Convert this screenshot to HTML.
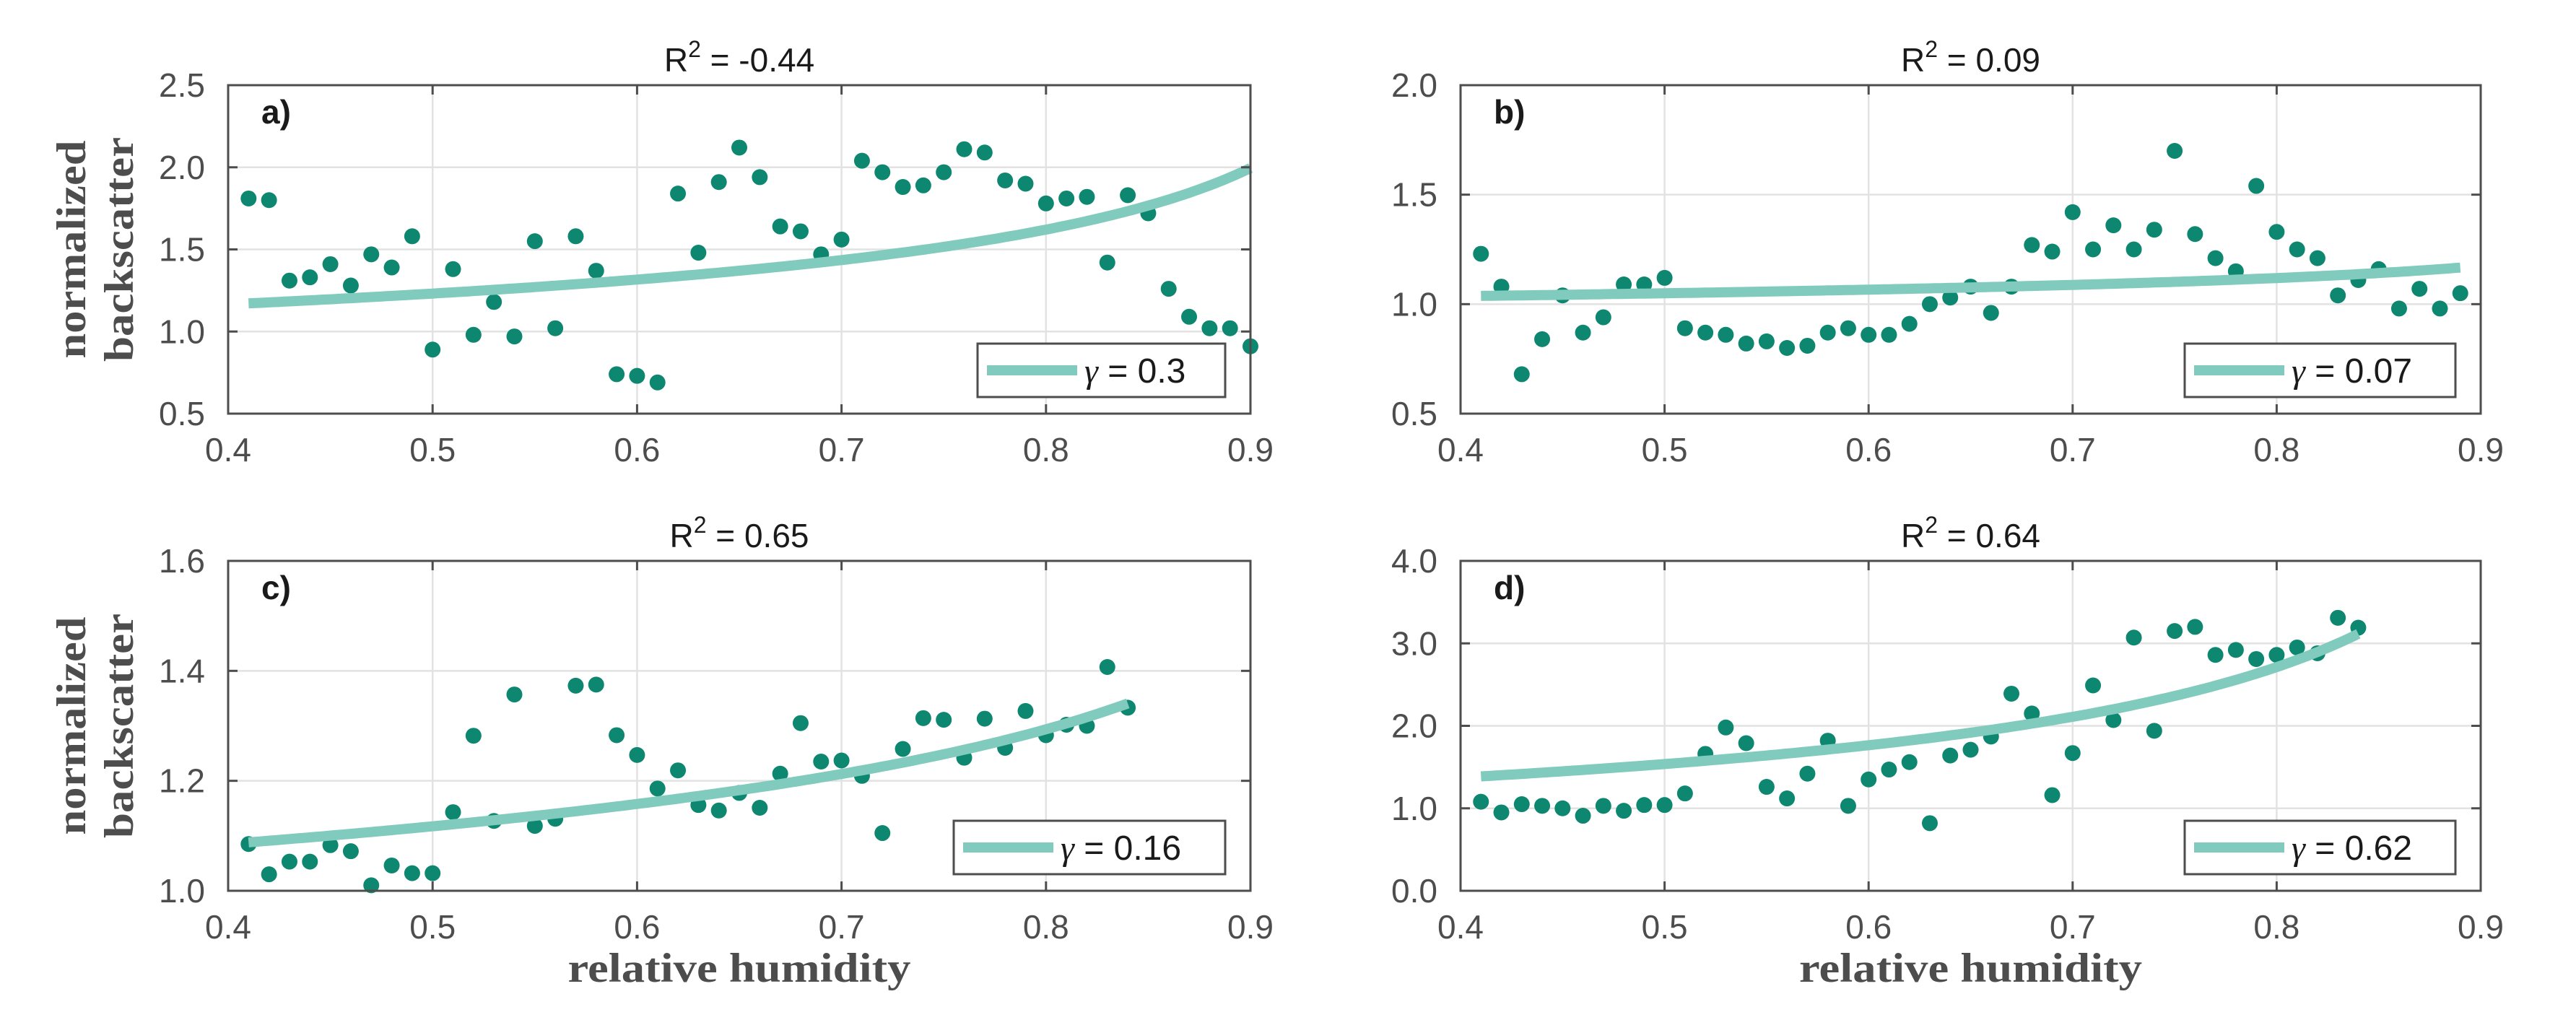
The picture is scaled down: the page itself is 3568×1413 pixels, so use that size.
<!DOCTYPE html>
<html><head><meta charset="utf-8"><style>
html,body{margin:0;padding:0;background:#fff;}
svg{display:block;}
</style></head><body>
<svg id="fig" width="3568" height="1413" viewBox="0 0 3568 1413" xmlns="http://www.w3.org/2000/svg"></svg>
<script>
// ---- data ----
const xTicks = [0.4, 0.5, 0.6, 0.7, 0.8, 0.9];
const xTickLabels = ["0.4", "0.5", "0.6", "0.7", "0.8", "0.9"];
const panelIds = ["a", "b", "c", "d"];
const titles = ["-0.44", "0.09", "0.65", "0.64"];
const gammas = [0.3, 0.07, 0.16, 0.62];
const gammaLabels = ["0.3", "0.07", "0.16", "0.62"];
const fitEnd = [0.90, 0.89, 0.84, 0.84];
const yTicksA = [0.5, 1.0, 1.5, 2.0, 2.5];
const yTicksB = [0.5, 1.0, 1.5, 2.0];
const yTicksC = [1.0, 1.2, 1.4, 1.6];
const yTicksD = [0.0, 1.0, 2.0, 3.0, 4.0];
const rhA = [0.41,0.42,0.43,0.44,0.45,0.46,0.47,0.48,0.49,0.50,0.51,0.52,0.53,0.54,0.55,0.56,0.57,0.58,0.59,0.60,0.61,0.62,0.63,0.64,0.65,0.66,0.67,0.68,0.69,0.70,0.71,0.72,0.73,0.74,0.75,0.76,0.77,0.78,0.79,0.80,0.81,0.82,0.83,0.84,0.85,0.86,0.87,0.88,0.89,0.90];
const valA = [1.81,1.80,1.31,1.33,1.41,1.28,1.47,1.39,1.58,0.89,1.38,0.98,1.18,0.97,1.55,1.02,1.58,1.37,0.74,0.73,0.69,1.84,1.48,1.91,2.12,1.94,1.64,1.61,1.47,1.56,2.04,1.97,1.88,1.89,1.97,2.11,2.09,1.92,1.90,1.78,1.81,1.82,1.42,1.83,1.72,1.26,1.09,1.02,1.02,0.91];
const rhB = [0.41,0.42,0.43,0.44,0.45,0.46,0.47,0.48,0.49,0.50,0.51,0.52,0.53,0.54,0.55,0.56,0.57,0.58,0.59,0.60,0.61,0.62,0.63,0.64,0.65,0.66,0.67,0.68,0.69,0.70,0.71,0.72,0.73,0.74,0.75,0.76,0.77,0.78,0.79,0.80,0.81,0.82,0.83,0.84,0.85,0.86,0.87,0.88,0.89];
const valB = [1.23,1.08,0.68,0.84,1.04,0.87,0.94,1.09,1.09,1.12,0.89,0.87,0.86,0.82,0.83,0.80,0.81,0.87,0.89,0.86,0.86,0.91,1.00,1.03,1.08,0.96,1.08,1.27,1.24,1.42,1.25,1.36,1.25,1.34,1.70,1.32,1.21,1.15,1.54,1.33,1.25,1.21,1.04,1.11,1.16,0.98,1.07,0.98,1.05];
const rhC = [0.41,0.42,0.43,0.44,0.45,0.46,0.47,0.48,0.49,0.50,0.51,0.52,0.53,0.54,0.55,0.56,0.57,0.58,0.59,0.60,0.61,0.62,0.63,0.64,0.65,0.66,0.67,0.68,0.69,0.70,0.71,0.72,0.73,0.74,0.75,0.76,0.77,0.78,0.79,0.80,0.81,0.82,0.83,0.84];
const valC = [1.085,1.03,1.053,1.053,1.083,1.072,1.01,1.046,1.032,1.032,1.143,1.282,1.127,1.357,1.118,1.131,1.373,1.375,1.283,1.247,1.186,1.219,1.156,1.146,1.178,1.151,1.213,1.305,1.235,1.237,1.209,1.105,1.258,1.314,1.311,1.242,1.313,1.26,1.327,1.283,1.302,1.30,1.407,1.333];
const rhD = [0.41,0.42,0.43,0.44,0.45,0.46,0.47,0.48,0.49,0.50,0.51,0.52,0.53,0.54,0.55,0.56,0.57,0.58,0.59,0.60,0.61,0.62,0.63,0.64,0.65,0.66,0.67,0.68,0.69,0.70,0.71,0.72,0.73,0.74,0.75,0.76,0.77,0.78,0.79,0.80,0.81,0.82,0.83,0.84];
const valD = [1.08,0.95,1.05,1.03,1.00,0.91,1.03,0.97,1.04,1.04,1.18,1.66,1.98,1.79,1.26,1.12,1.42,1.82,1.03,1.35,1.47,1.56,0.82,1.64,1.71,1.87,2.39,2.15,1.16,1.67,2.49,2.07,3.07,1.94,3.15,3.20,2.86,2.92,2.81,2.86,2.95,2.88,3.31,3.19];

const NS = "http://www.w3.org/2000/svg";
const svg = document.getElementById("fig");
function mk(tag, attrs, parent) {
  const e = document.createElementNS(NS, tag);
  for (const k in attrs) e.setAttribute(k, attrs[k]);
  (parent || svg).appendChild(e);
  return e;
}
const layouts = [
  {x0: 316, x1: 1732, y0: 118, y1: 573, yt: yTicksA, rh: rhA, v: valA, ylab: true, xlab: false},
  {x0: 2023, x1: 3436, y0: 118, y1: 573, yt: yTicksB, rh: rhB, v: valB, ylab: false, xlab: false},
  {x0: 316, x1: 1732, y0: 777, y1: 1234, yt: yTicksC, rh: rhC, v: valC, ylab: true, xlab: true},
  {x0: 2023, x1: 3436, y0: 777, y1: 1234, yt: yTicksD, rh: rhD, v: valD, ylab: false, xlab: true}
];
const legW = [343, 375, 376, 375];
const sans = '"Liberation Sans", Arial, sans-serif';
const serif = '"Liberation Serif", "DejaVu Serif", serif';

layouts.forEach((L, i) => {
  const g = mk("g", {});
  
  
  const ymin = L.yt[0], ymax = L.yt[L.yt.length - 1];
  const sx = v => L.x0 + (v - 0.4) / 0.5 * (L.x1 - L.x0);
  const sy = v => L.y1 - (v - ymin) / (ymax - ymin) * (L.y1 - L.y0);
  // grid
  xTicks.forEach((t, k) => {
    if (k > 0 && k < xTicks.length - 1) {
      const gl = mk("line", {x1: sx(t), x2: sx(t), y1: L.y0, y2: L.y1, stroke: "#e2e2e2", "stroke-width": 2.5}, g);
      
      
    }
  });
  L.yt.forEach((t, k) => {
    if (k > 0 && k < L.yt.length - 1) {
      const gl = mk("line", {x1: L.x0, x2: L.x1, y1: sy(t), y2: sy(t), stroke: "#e2e2e2", "stroke-width": 2.5}, g);
      
      
    }
  });
  // dots
  L.rh.forEach((x, k) => {
    const c = mk("circle", {cx: sx(x), cy: sy(L.v[k]), r: 11, fill: "#0e8770"}, g);
    
    
  });
  // fit curve
  let d = "";
  for (let x = 0.41; x <= fitEnd[i] + 1e-9; x += 0.0025) {
    const y = Math.pow(1 - x, -gammas[i]);
    d += (d ? "L" : "M") + sx(x).toFixed(1) + "," + sy(y).toFixed(1);
  }
  const fit = mk("path", {d: d, fill: "none", stroke: "#80cbbd", "stroke-width": 14}, g);
  
  
  // axis box
  const box = mk("rect", {x: L.x0, y: L.y0, width: L.x1 - L.x0, height: L.y1 - L.y0, fill: "none", stroke: "#4d4d4d", "stroke-width": 3}, g);
  
  
  // ticks + labels
  xTicks.forEach((t, k) => {
    mk("line", {x1: sx(t), x2: sx(t), y1: L.y1, y2: L.y1 - 13, stroke: "#4d4d4d", "stroke-width": 3}, g);
    mk("line", {x1: sx(t), x2: sx(t), y1: L.y0, y2: L.y0 + 13, stroke: "#4d4d4d", "stroke-width": 3}, g);
    const tl = mk("text", {x: sx(t), y: L.y1 + 66, "text-anchor": "middle", "font-family": sans, "font-size": 46, fill: "#4d4d4d"}, g);
    tl.textContent = xTickLabels[k];
    
    
  });
  L.yt.forEach((t) => {
    mk("line", {x1: L.x0, x2: L.x0 + 13, y1: sy(t), y2: sy(t), stroke: "#4d4d4d", "stroke-width": 3}, g);
    mk("line", {x1: L.x1, x2: L.x1 - 13, y1: sy(t), y2: sy(t), stroke: "#4d4d4d", "stroke-width": 3}, g);
    const tl = mk("text", {x: L.x0 - 32, y: sy(t) + 16, "text-anchor": "end", "font-family": sans, "font-size": 46, fill: "#4d4d4d"}, g);
    tl.textContent = t.toFixed(1);
    
    
  });
  // title
  const ti = mk("text", {x: (L.x0 + L.x1) / 2, y: L.y0 - 19, "text-anchor": "middle", "font-family": sans, "font-size": 46, fill: "#1a1a1a"}, g);
  
  
  const t1 = mk("tspan", {}, ti); t1.textContent = "R";
  const t2 = mk("tspan", {"font-size": 32, dy: -20}, ti); t2.textContent = "2";
  const t3 = mk("tspan", {dy: 20}, ti); t3.textContent = " = " + titles[i];
  // panel letter
  const pl = mk("text", {x: L.x0 + 46, y: L.y0 + 53, "font-family": sans, "font-size": 46, "font-weight": "bold", fill: "#1a1a1a"}, g);
  pl.textContent = panelIds[i] + ")";
  
  
  // legend
  const lx1 = L.x1 - 35, lx0 = lx1 - legW[i], ly1 = L.y1 - 23, ly0 = ly1 - 74;
  const lg = mk("g", {}, g);
  
  
  mk("rect", {x: lx0, y: ly0, width: lx1 - lx0, height: ly1 - ly0, fill: "#fff", stroke: "#4d4d4d", "stroke-width": 3}, lg);
  const ls = mk("line", {x1: lx0 + 13, x2: lx0 + 138, y1: (ly0 + ly1) / 2, y2: (ly0 + ly1) / 2, stroke: "#80cbbd", "stroke-width": 14}, lg);
  
  
  const lt = mk("text", {x: lx0 + 148, y: (ly0 + ly1) / 2 + 17, "font-family": sans, "font-size": 48, fill: "#1a1a1a"}, lg);
  
  
  const g1 = mk("tspan", {"font-family": serif, "font-style": "italic"}, lt); g1.textContent = "γ";
  const g2 = mk("tspan", {}, lt); g2.textContent = " = " + gammaLabels[i];
  // axis labels
  if (L.ylab) {
    const cy = (L.y0 + L.y1) / 2;
    const a1 = mk("text", {x: 118, y: cy, transform: "rotate(-90 118 " + cy + ")", "text-anchor": "middle", "font-family": serif, "font-size": 57, "font-weight": "bold", fill: "#4d4d4d", textLength: 302, lengthAdjust: "spacingAndGlyphs"}, g);
    a1.textContent = "normalized";
    
    
    const a2 = mk("text", {x: 184, y: cy, transform: "rotate(-90 184 " + cy + ")", "text-anchor": "middle", "font-family": serif, "font-size": 57, "font-weight": "bold", fill: "#4d4d4d", textLength: 311, lengthAdjust: "spacingAndGlyphs"}, g);
    a2.textContent = "backscatter";
    
    
  }
  if (L.xlab) {
    const xl = mk("text", {x: (L.x0 + L.x1) / 2, y: L.y1 + 126, "text-anchor": "middle", "font-family": serif, "font-size": 57, "font-weight": "bold", fill: "#4d4d4d", textLength: 475, lengthAdjust: "spacingAndGlyphs"}, g);
    xl.textContent = "relative humidity";
    
    
  }
});
</script>
</body></html>
